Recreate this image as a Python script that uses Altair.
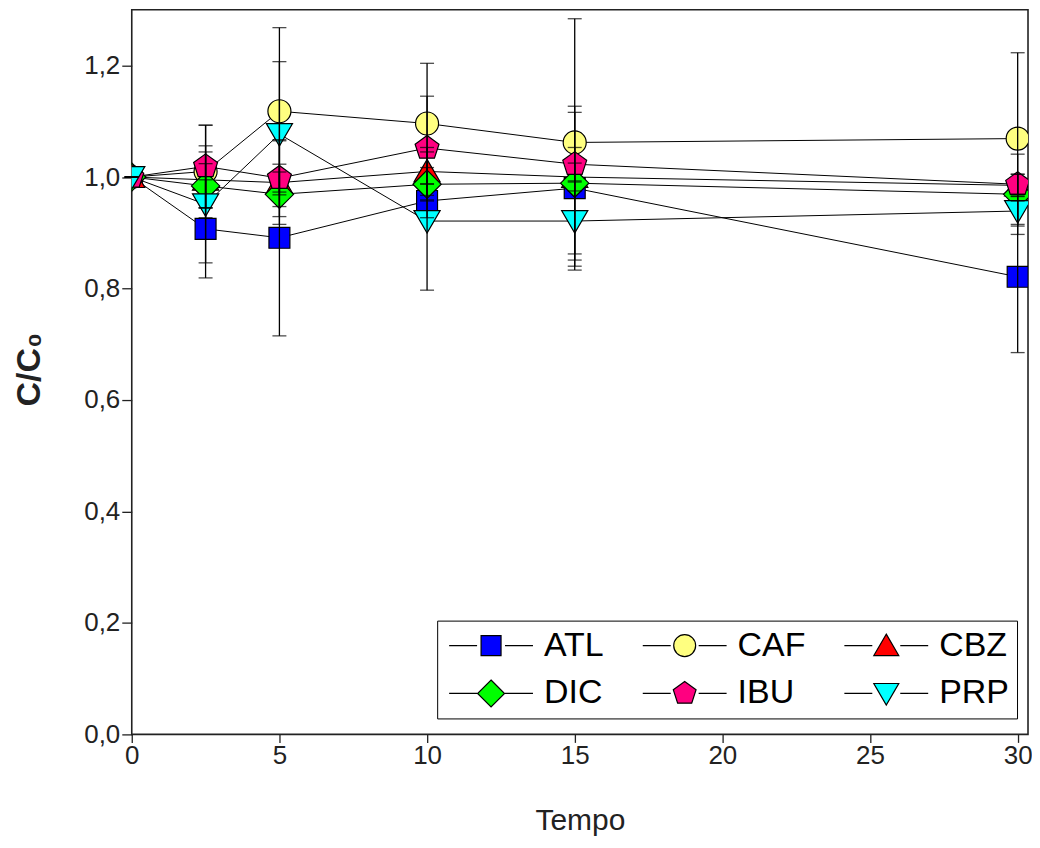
import altair as alt
import pandas as pd

# ---- data ----
tempo = [0, 2.5, 5, 10, 15, 30]
series = ["ATL", "CAF", "CBZ", "DIC", "IBU", "PRP"]

ATL = [1.000, 0.907, 0.891, 0.957, 0.980, 0.821]
CAF = [1.000, 1.010, 1.118, 1.096, 1.062, 1.069]
CBZ = [1.000, 0.995, 0.990, 1.010, 1.000, 0.985]
DIC = [1.000, 0.984, 0.969, 0.987, 0.989, 0.969]
IBU = [1.000, 1.019, 0.998, 1.052, 1.023, 0.987]
PRP = [1.000, 0.951, 1.077, 0.921, 0.921, 0.939]

ATL_err = [0.0, 0.088, 0.176, 0.030, 0.147, 0.136]
CAF_err = [0.0, 0.083, 0.150, 0.108, 0.222, 0.154]
CBZ_err = [0.0, 0.050, 0.075, 0.043, 0.025, 0.020]
DIC_err = [0.0, 0.040, 0.040, 0.030, 0.127, 0.072]
IBU_err = [0.0, 0.074, 0.025, 0.093, 0.030, 0.018]
PRP_err = [0.0, 0.105, 0.130, 0.124, 0.070, 0.027]

colors = ["#0000FF", "#FFFF80", "#FF0000", "#00FF00", "#FF0080", "#00FFFF"]

# marker outlines (unit coordinates)
sq = "M-1,-1L1,-1L1,1L-1,1Z"
ci = "M1.1,0A1.1,1.1,0,1,1,-1.1,0A1.1,1.1,0,1,1,1.1,0Z"
tu = "M0,-1.15L1.25,1L-1.25,1Z"
di = "M0,-1.35L1.35,0L0,1.35L-1.35,0Z"
pe = "M0,-1.2L1.141,-0.371L0.705,0.971L-0.705,0.971L-1.141,-0.371Z"
td = "M-1.25,-1L1.25,-1L0,1.15Z"
shapes = [sq, ci, tu, di, pe, td]
legend_shapes = ["M-4.2,0L-1.4,0" + s + "M1.4,0L4.2,0" for s in shapes]

vals = {"ATL": ATL, "CAF": CAF, "CBZ": CBZ, "DIC": DIC, "IBU": IBU, "PRP": PRP}
errs = {"ATL": ATL_err, "CAF": CAF_err, "CBZ": CBZ_err, "DIC": DIC_err, "IBU": IBU_err, "PRP": PRP_err}

rows = []
for s in series:
    for t, v, e in zip(tempo, vals[s], errs[s]):
        rows.append({"series": s, "t": t, "v": v, "lo": v - e, "hi": v + e})
df = pd.DataFrame(rows)

FONT = "Liberation Sans"

x = alt.X("t:Q", scale=alt.Scale(domain=[0, 30.35], nice=False, zero=False),
          axis=alt.Axis(values=[0, 5, 10, 15, 20, 25, 30], title="Tempo", format="d",
                        titleFontSize=30, titleFontWeight="normal", titleY=86,
                        titleBaseline="middle", labelFontSize=26, labelFlush=False,
                        tickSize=8, labelPadding=0))
y = alt.Y("v:Q", scale=alt.Scale(domain=[0, 1.3], nice=False),
          axis=alt.Axis(values=[0, 0.2, 0.4, 0.6, 0.8, 1.0, 1.2], title="C/C₀",
                        labelExpr="replace(format(datum.value, '.1f'), '.', ',')",
                        titleFontSize=34, titleFontWeight="bold", titleX=-102, titleY=360,
                        titleAlign="center", titleBaseline="middle", titleAngle=-90,
                        labelFontSize=26, tickSize=10, labelPadding=2, labelFlush=False))

base = alt.Chart(df)

lines = base.mark_line(color="black", strokeWidth=1, clip=True).encode(
    x=x, y=y, detail="series:N", order="t:Q")

points = base.mark_point(filled=True, size=440, stroke="black", strokeWidth=1.2,
                         opacity=1, clip=True).encode(
    x=x, y=y,
    fill=alt.Fill("series:N", scale=alt.Scale(domain=series, range=colors), legend=None),
    shape=alt.Shape("series:N", scale=alt.Scale(domain=series, range=shapes), legend=None),
)

leg = alt.Legend(title=None, orient="none", legendX=306, legendY=612, columns=3,
                 direction="horizontal",
                 labelFont=FONT, labelFontSize=34, labelColor="black",
                 symbolSize=400, symbolOffset=29, labelOffset=36,
                 symbolStrokeWidth=1.2, symbolOpacity=1,
                 columnPadding=35, rowPadding=14, padding=8,
                 strokeColor="black", fillColor="white")

legend_layer = base.mark_point(filled=True, size=400, strokeWidth=1.2, opacity=0).encode(
    x=x, y=y,
    fill=alt.Fill("series:N", scale=alt.Scale(domain=series, range=colors), legend=leg),
    shape=alt.Shape("series:N", scale=alt.Scale(domain=series, range=legend_shapes), legend=leg),
    stroke=alt.Stroke("series:N", scale=alt.Scale(domain=series, range=["black"] * 6), legend=leg),
)

bars = base.mark_rule(color="black", strokeWidth=1.3).encode(
    x=x, y=alt.Y("lo:Q"), y2="hi:Q")
caps_lo = base.mark_tick(color="black", orient="horizontal", size=14, thickness=1.3).encode(
    x=x, y=alt.Y("lo:Q"))
caps_hi = base.mark_tick(color="black", orient="horizontal", size=14, thickness=1.3).encode(
    x=x, y=alt.Y("hi:Q"))

chart = alt.layer(lines, points, legend_layer, bars, caps_lo, caps_hi).resolve_scale(
    fill="independent", shape="independent", stroke="independent"
).properties(
    width=898, height=726,
    padding={"left": 124, "top": 1, "right": 4, "bottom": 105},
    autosize=alt.AutoSizeParams(type="none"),
).configure_view(
    stroke="#222222", strokeWidth=1.6
).configure_axis(
    grid=False, domain=False, tickColor="#222222", tickWidth=1.3,
    labelFont=FONT, titleFont=FONT, labelColor="#222222", titleColor="#222222"
)

chart.save("out.html", embed_options={"renderer": "svg", "actions": False})
